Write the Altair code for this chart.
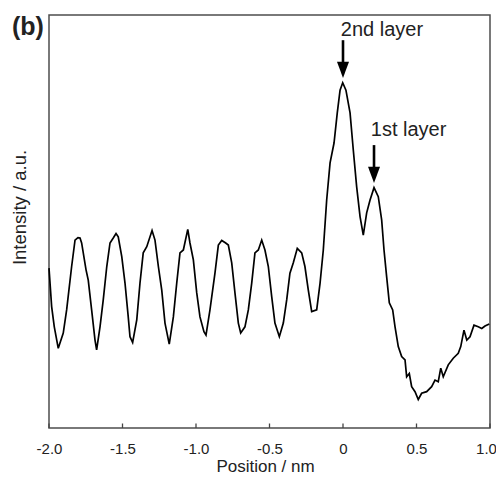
import altair as alt
import pandas as pd

# Intensity profile (position in nm, intensity in a.u. 0-100)
pos = [-2.000, -1.982, -1.964, -1.937, -1.903, -1.880, -1.846, -1.823, -1.803, -1.789,
       -1.778, -1.748, -1.733, -1.710, -1.687, -1.676, -1.653, -1.631, -1.607, -1.585,
       -1.563, -1.544, -1.529, -1.505, -1.483, -1.461, -1.449, -1.431, -1.403, -1.381,
       -1.359, -1.335, -1.299, -1.279, -1.256, -1.233, -1.211, -1.182, -1.154, -1.131,
       -1.109, -1.086, -1.056, -1.041, -1.018, -0.995, -0.973, -0.946, -0.932, -0.905,
       -0.871, -0.848, -0.825, -0.798, -0.780, -0.757, -0.735, -0.712, -0.696, -0.667,
       -0.644, -0.621, -0.599, -0.576, -0.553, -0.531, -0.508, -0.485, -0.463, -0.433,
       -0.406, -0.383, -0.361, -0.338, -0.311, -0.281, -0.259, -0.236, -0.213, -0.179,
       -0.156, -0.134, -0.111, -0.088, -0.061, -0.039, -0.020, -0.002, 0.020, 0.048,
       0.070, 0.093, 0.116, 0.138, 0.161, 0.184, 0.211, 0.240, 0.263, 0.279,
       0.297, 0.315, 0.338, 0.354, 0.376, 0.399, 0.422, 0.433, 0.451, 0.467,
       0.490, 0.512, 0.535, 0.569, 0.603, 0.626, 0.648, 0.665, 0.682, 0.716,
       0.750, 0.784, 0.801, 0.823, 0.842, 0.864, 0.891, 0.920, 0.944, 0.966, 0.995]
inten = [38.7, 29.4, 24.5, 19.3, 23.0, 28.6, 39.1, 45.5, 46.1, 46.0,
         44.8, 38.3, 35.8, 28.6, 21.3, 18.9, 24.5, 31.0, 39.1, 44.8,
         46.0, 47.1, 46.3, 41.5, 35.1, 26.9, 22.1, 20.7, 26.2, 35.1,
         42.4, 43.9, 47.8, 45.5, 39.1, 33.4, 25.4, 20.3, 26.9, 35.1,
         42.4, 43.1, 48.1, 44.8, 40.7, 32.7, 26.9, 23.3, 22.5, 28.6,
         37.5, 44.3, 45.4, 44.8, 44.3, 40.0, 32.7, 25.4, 23.0, 24.5,
         28.6, 35.1, 42.4, 43.1, 45.5, 43.1, 39.1, 31.8, 25.4, 22.1,
         25.4, 31.0, 37.5, 40.0, 43.5, 42.4, 39.1, 33.4, 28.2, 28.6,
         35.1, 43.1, 55.2, 64.2, 69.0, 76.3, 81.8, 83.6, 81.8, 76.3,
         67.3, 58.4, 51.2, 46.7, 52.1, 55.2, 58.2, 56.0, 50.4, 43.1,
         36.6, 30.3, 28.6, 24.5, 19.7, 17.3, 16.5, 12.4, 13.2, 10.0,
         8.8, 6.9, 8.4, 8.8, 10.0, 11.6, 11.2, 14.5, 12.4, 15.3,
         16.9, 18.1, 19.7, 23.7, 21.3, 22.1, 24.9, 24.5, 24.1, 24.7, 25.2]

tick_vals = [-2.0, -1.5, -1.0, -0.5, 0.0, 0.5, 1.0]

# Annotations (arrows + labels) in data coordinates
ann_label = ["2nd layer", "1st layer"]
ann_text_x = [0.265, 0.446]
ann_text_y = [95.0, 70.7]
arrow_x = [0.0, 0.211]
arrow_top = [93.9, 68.5]
arrow_head = [86.7, 61.3]

df = pd.DataFrame({"pos": pos, "inten": inten})
df_ticks = pd.DataFrame({"pos": tick_vals})
df_ann = pd.DataFrame({"label": ann_label, "tx": ann_text_x, "ty": ann_text_y,
                       "ax": arrow_x, "atop": arrow_top, "ahead": arrow_head})

FONT = "Liberation Sans"
xs = alt.Scale(domain=[-2, 1], nice=False, zero=False)
ys = alt.Scale(domain=[0, 100], nice=False, zero=False)

x_axis = alt.Axis(values=tick_vals, title="Position / nm",
                  labelExpr="datum.value == 0 ? '0' : (datum.value < 0 ? '-' : '') + format(abs(datum.value), '.1f')",
                  ticks=False, domain=False, grid=False,
                  labelFont=FONT, labelFontSize=15, labelColor="#222",
                  labelBaseline="alphabetic", labelPadding=25,
                  labelFlush=False,
                  labelOffset={"condition": {"test": "datum.value == 1", "value": -4}, "value": 0},
                  titleFont=FONT, titleFontSize=17, titleFontWeight="normal",
                  titleColor="#222", titleX=216, titleY=43.5,
                  titleBaseline="alphabetic", titleAlign="center")
y_axis = alt.Axis(labels=False, ticks=False, domain=False, grid=False,
                  title="Intensity / a.u.",
                  titleFont=FONT, titleFontSize=18.5, titleFontWeight="normal",
                  titleColor="#222", titleX=-30, titleY=192, titleAngle=270,
                  titleAlign="center", titleBaseline="middle")

line = alt.Chart(df).mark_line(color="black", strokeWidth=1.7).encode(
    x=alt.X("pos:Q", scale=xs, axis=x_axis),
    y=alt.Y("inten:Q", scale=ys, axis=y_axis),
)

ticks = alt.Chart(df_ticks).mark_rule(color="#444", strokeWidth=1.3).encode(
    x=alt.X("pos:Q", scale=xs, axis=x_axis),
    y=alt.value(413), y2=alt.value(408.5),
)

shafts = alt.Chart(df_ann).mark_rule(color="black", strokeWidth=2.6).encode(
    x=alt.X("ax:Q", scale=xs, axis=x_axis),
    y=alt.Y("atop:Q", scale=ys, axis=y_axis),
    y2="ahead:Q",
)

heads = alt.Chart(df_ann).mark_point(
    shape="M-1,-1.35L1,-1.35L0,1.35Z", filled=True, color="black", opacity=1,
    size=144, strokeWidth=0,
).encode(
    x=alt.X("ax:Q", scale=xs, axis=x_axis),
    y=alt.Y("ahead:Q", scale=ys, axis=y_axis),
)

labels = alt.Chart(df_ann).mark_text(
    font=FONT, fontSize=20, color="#222", align="center", baseline="alphabetic"
).encode(
    x=alt.X("tx:Q", scale=xs, axis=x_axis),
    y=alt.Y("ty:Q", scale=ys, axis=y_axis),
    text="label:N",
)

panel = alt.Chart(pd.DataFrame({"t": ["(b)"]})).mark_text(
    font=FONT, fontSize=25, fontWeight="bold", color="#222",
    align="left", baseline="alphabetic"
).encode(x=alt.value(-37), y=alt.value(20), text="t:N")

chart = alt.layer(line, ticks, shafts, heads, labels, panel).properties(
    width=441, height=413,
    autosize=alt.AutoSizeParams(type="none"),
    padding={"left": 41, "top": 7, "right": 6, "bottom": 47},
).configure_view(stroke="#4d4d4d", strokeWidth=1.5)

chart.save("out.html", embed_options={"renderer": "svg", "actions": False})
